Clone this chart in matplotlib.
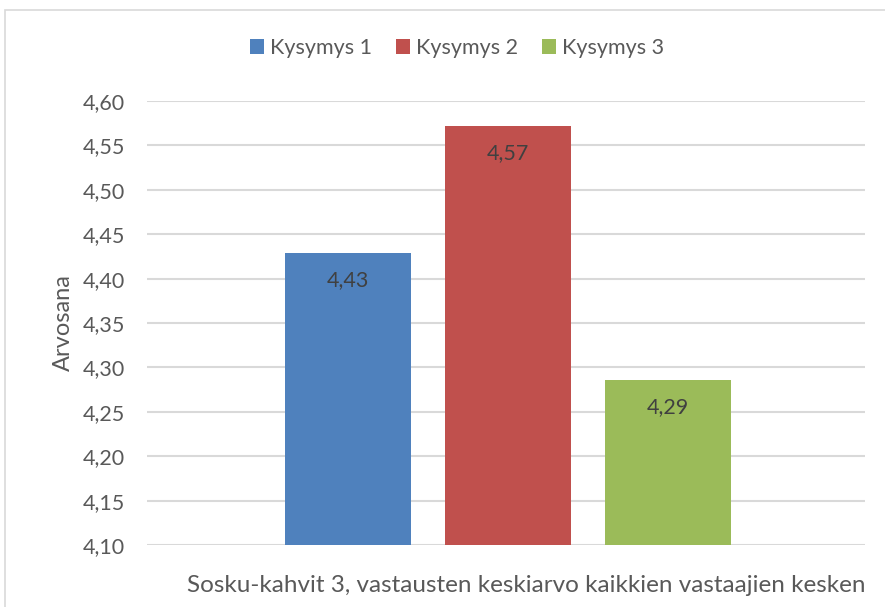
import matplotlib.pyplot as plt
from matplotlib.patches import Rectangle

plt.rcParams['font.family'] = ['Lato', 'DejaVu Sans']

series = ['Kysymys 1', 'Kysymys 2', 'Kysymys 3']
values = [4.4286, 4.5714, 4.2857]
labels = ['4,43', '4,57', '4,29']
colors = ['#4F81BD', '#C0504D', '#9BBB59']
yticks = [4.10, 4.15, 4.20, 4.25, 4.30, 4.35, 4.40, 4.45, 4.50, 4.55, 4.60]
category = 'Sosku-kahvit 3, vastausten keskiarvo kaikkien vastaajien kesken'

text_col = '#595959'
grid_col = '#d9d9d9'

fig = plt.figure(figsize=(8.85, 6.07), dpi=100)
ax = fig.add_axes([0.1661, 0.1021, 0.8113, 0.7315])

xs = [-1, 0, 1]
bars = ax.bar(xs, [v - 4.10 for v in values], bottom=4.10, width=0.79,
              color=colors, label=series, zorder=3)
for b, lab in zip(bars, labels):
    ax.annotate(lab, (b.get_x() + b.get_width() / 2, b.get_y() + b.get_height()),
                xytext=(0, -19.5), textcoords='offset points', ha='center', va='center',
                fontsize=15.5, color='#404040', zorder=4)

ax.set_ylim(4.10, 4.60)
ax.set_xlim(-2.256, 2.231)
ax.set_yticks(yticks)
ax.set_yticklabels([f'{t:.2f}'.replace('.', ',') for t in yticks])
ax.yaxis.grid(True, color=grid_col, linewidth=1.5, zorder=0)
ax.set_xticks([])
ax.tick_params(axis='y', length=0, pad=16, labelsize=15.5, labelcolor=text_col)
for s in ax.spines.values():
    s.set_visible(False)

ax.set_ylabel('Arvosana', fontsize=17, color=text_col, labelpad=6)

fig.text(526 / 885, 1 - 585 / 607, category, ha='center', va='center',
         fontsize=17.5, color=text_col)

fig.legend(handles=bars, labels=series, loc='center', bbox_to_anchor=(457 / 885, 1 - 48 / 607),
           ncol=3, frameon=False, fontsize=15.5, labelcolor=text_col,
           handlelength=0.65, handleheight=0.65, handletextpad=0.3, columnspacing=1.1)

fig.add_artist(Rectangle((5 / 885, -0.05), 1.0, 1 - 10 / 607 + 0.05,
                         transform=fig.transFigure, fill=False,
                         edgecolor='#d9d9d9', linewidth=1.2, clip_on=False))

fig.savefig('out.png', dpi=100)
